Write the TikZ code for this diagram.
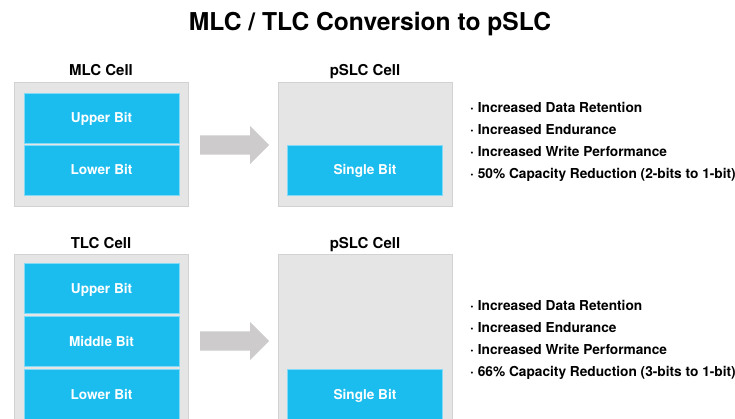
\documentclass[tikz,border=0pt]{standalone}
\usepackage{fontspec}
\setmainfont{TeX Gyre Heros}
\usetikzlibrary{shapes.arrows, positioning}
\definecolor{cellgray}{HTML}{E5E5E5}
\definecolor{cellborder}{HTML}{D2D2D2}
\definecolor{bitblue}{HTML}{1BBCEE}
\definecolor{arrowgray}{HTML}{CDCBCB}

\begin{document}
\begin{tikzpicture}[
    x=1pt, y=-1pt,
    cell/.style={
        draw=cellborder,
        fill=cellgray,
        line width=0.8pt,
        minimum width=174pt,
        inner sep=0pt
    },
    bit/.style={
        draw=bitblue!55!white,
        fill=bitblue,
        line width=0.6pt,
        minimum width=155pt,
        minimum height=50pt,
        inner sep=0pt,
        text height=12pt,
        text depth=2pt,
        text=white,
        font=\bfseries\fontsize{13.6}{16}\selectfont
    },
    conv/.style={
        single arrow,
        fill=arrowgray,
        anchor=tail,
        minimum height=69pt,
        inner sep=9.5pt,
        single arrow head extend=9.5pt,
        single arrow head indent=0pt
    },
    celltitle/.style={
        text height=13pt,
        text depth=2pt,
        font=\bfseries\fontsize{15}{18}\selectfont
    },
    point/.style={
        anchor=base west,
        inner sep=0pt,
        font=\bfseries\fontsize{13.7}{16}\selectfont
    }
]
\useasboundingbox (0,0) rectangle (735,419);
\clip (0,0) rectangle (735,419);

% Title
\node[font=\bfseries\fontsize{24.6}{29}\selectfont] (title) at (370, 24) {MLC / TLC Conversion to pSLC};

% MLC to pSLC (top row)
\node[celltitle] (mlclabel) at (101, 70) {MLC Cell};
\node[cell, minimum height=124pt] (mlc) at (101, 144) {};
\node[bit] (mlcupper) at (101.5, 118) {Upper Bit};
\node[bit] (mlclower) at (101.5, 170) {Lower Bit};

\node[conv] (conv1) at (200, 145) {};

\node[celltitle] (pslclabel1) at (365, 70) {pSLC Cell};
\node[cell, minimum height=124pt] (pslc1) at (365, 144) {};
\node[bit] (single1) at (365, 170) {Single Bit};

% TLC to pSLC (bottom row)
\node[celltitle] (tlclabel) at (101, 243) {TLC Cell};
\node[cell, minimum height=176pt] (tlc) at (101, 342) {};
\node[bit] (tlcupper) at (101.5, 288) {Upper Bit};
\node[bit] (tlcmiddle) at (101.5, 341.5) {Middle Bit};
\node[bit] (tlclower) at (101.5, 394) {Lower Bit};

\node[conv] (conv2) at (200, 341) {};

\node[celltitle] (pslclabel2) at (365, 243) {pSLC Cell};
\node[cell, minimum height=176pt] (pslc2) at (365, 342) {};
\node[bit] (single2) at (365, 394) {Single Bit};

% Benefits
\foreach \txt [count=\i] in {Increased Data Retention, Increased Endurance, Increased Write Performance, 50\% Capacity Reduction (2-bits to 1-bit)} {
    \node[point] (mlcpoint\i) at (470, 91 + 22*\i) {· \txt};
}
\foreach \txt [count=\i] in {Increased Data Retention, Increased Endurance, Increased Write Performance, 66\% Capacity Reduction (3-bits to 1-bit)} {
    \node[point] (tlcpoint\i) at (470, 288 + 22*\i) {· \txt};
}

\end{tikzpicture}
\end{document}
